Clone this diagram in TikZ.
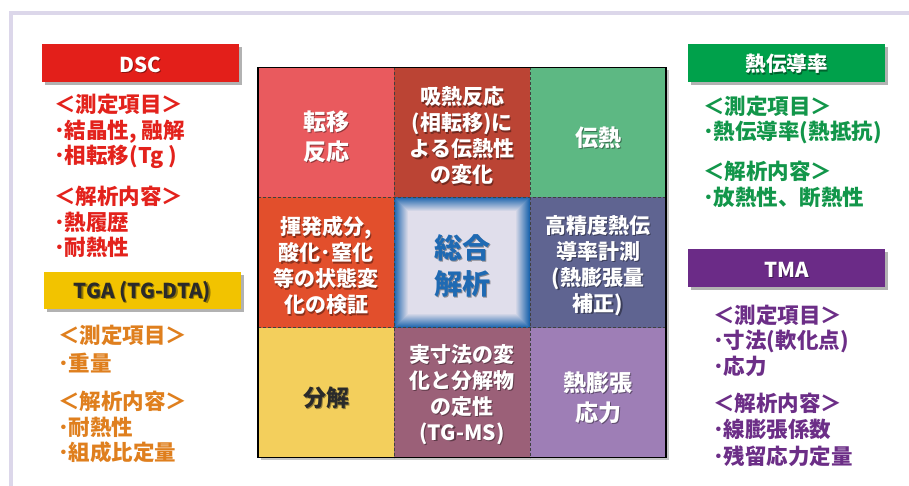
\documentclass[tikz,border=0pt]{standalone}
\usepackage{fontspec}
\setmainfont{Noto Sans CJK JP}
\usetikzlibrary{calc,shadows}
\definecolor{framecol}{HTML}{DCD7EA}
\definecolor{dscred}{HTML}{E31F1A}
\definecolor{dsctxt}{HTML}{E3221C}
\definecolor{tgayel}{HTML}{F2C300}
\definecolor{tgatxt}{HTML}{DF7F1E}
\definecolor{grnbox}{HTML}{00A14B}
\definecolor{grntxt}{HTML}{12964A}
\definecolor{purbox}{HTML}{6B2B87}
\definecolor{purtxt}{HTML}{6C2E87}
\definecolor{c00}{HTML}{E95A5E}
\definecolor{c01}{HTML}{BB4434}
\definecolor{c02}{HTML}{5DB883}
\definecolor{c10}{HTML}{E24F2C}
\definecolor{c11}{HTML}{EEE7EF}
\definecolor{c12}{HTML}{5F6491}
\definecolor{c20}{HTML}{F3CF5C}
\definecolor{c21}{HTML}{9B6078}
\definecolor{c22}{HTML}{9E7EB6}
\definecolor{glow}{HTML}{1C64AD}
\definecolor{ctrtxt}{HTML}{1F6AB3}
\definecolor{darktxt}{HTML}{2A2A2A}
\tikzset{
  cellbox/.style={minimum width=136pt, minimum height=130pt, inner sep=0pt, outer sep=0pt},
  celltxt/.style={align=center, inner sep=0pt, font=\bfseries\fontsize{21}{26}\selectfont},
  bigtxt/.style={align=center, inner sep=0pt, font=\bfseries\fontsize{23}{30}\selectfont},
  ctrtext/.style={align=center, inner sep=0pt, font=\bfseries\fontsize{28}{36}\selectfont},
  hdr/.style={minimum width=197pt, minimum height=38pt, inner sep=0pt,
    drop shadow={shadow xshift=2.5pt, shadow yshift=-3pt, fill=black, opacity=0.3}},
  hdrtxt/.style={inner sep=0pt, font=\bfseries\fontsize{20.5}{22}\selectfont},
  hdrjtxt/.style={inner sep=0pt, font=\bfseries\fontsize{20.5}{22}\selectfont},
  side/.style={anchor=west, align=left, inner sep=0pt, font=\bfseries\fontsize{21.5}{25.5}\selectfont},
  divider/.style={draw=black!75, line width=0.8pt, dash pattern=on 3pt off 2pt},
}
% name, base node, y offset, style, colour, text
\newcommand\shtext[6]{%
  \node[#4, text=black, text opacity=0.38] (#1s) at ($(#2.center)+(1.3,#3+1.6)$) {#6};
  \node[#4, text=#5] (#1) at ($(#2.center)+(0,#3)$) {#6};}
\begin{document}
\begin{tikzpicture}[x=1pt,y=-1pt]
\useasboundingbox (0,0) rectangle (909,486);
\fill[white] (0,0) rectangle (909,486);
\draw[framecol, line width=4pt] (11,490) -- (11,13) -- (915,13);

% ---- grid ----
\fill[black!22] (260.5,70) rectangle (668.5,460);
\node[cellbox, fill=c00] (c00) at (326,132.5) {};
\node[cellbox, fill=c01] (c01) at (462,132.5) {};
\node[cellbox, fill=c02] (c02) at (598,132.5) {};
\node[cellbox, fill=c10] (c10) at (326,262.5) {};
\node[cellbox, fill=c11] (c11) at (462,262.5) {};
\node[cellbox, fill=c12] (c12) at (598,262.5) {};
\node[cellbox, fill=c20] (c20) at (326,392.5) {};
\node[cellbox, fill=c21] (c21) at (462,392.5) {};
\node[cellbox, fill=c22] (c22) at (598,392.5) {};
\foreach \i in {0,...,14}{
  \pgfmathsetmacro\p{100-\i*100/15}
  \fill[glow!\p!c11] ($(c11.north west)+(\i,\i)$) rectangle ($(c11.south east)+(-\i,-\i)$);
}
\draw[divider] (c00.north east) -- (c20.south east);
\draw[divider] (c01.north east) -- (c21.south east);
\draw[divider] (c00.south west) -- (c02.south east);
\draw[divider] (c10.south west) -- (c12.south east);
\draw[black, line width=1.5pt] (c00.north west) rectangle (c22.south east);

\shtext{t00}{c00}{4}{bigtxt}{white}{転移\\反応}
\shtext{t01}{c01}{3}{celltxt}{white}{吸熱反応\\(相転移)に\\よる伝熱性\\の変化}
\shtext{t02}{c02}{5}{bigtxt}{white}{伝熱}
\shtext{t10}{c10}{3}{celltxt}{white}{揮発成分,\\酸化･窒化\\等の状態変\\化の検証}
\shtext{t11}{c11}{3}{ctrtext}{ctrtxt}{総合\\解析}
\shtext{t12}{c12}{3}{celltxt}{white}{高精度熱伝\\導率計測\\(熱膨張量\\補正)}
\shtext{t20}{c20}{5}{bigtxt}{darktxt}{分解}
\shtext{t21}{c21}{2}{celltxt}{white}{実寸法の変\\化と分解物\\の定性\\(TG-MS)}
\shtext{t22}{c22}{5}{bigtxt}{white}{熱膨張\\応力}

% ---- headers ----
\node[hdr, fill=dscred] (hdsc) at (140.5,63) {};
\node[hdr, fill=tgayel, minimum height=37pt] (htga) at (142.5,290.5) {};
\node[hdr, fill=grnbox] (hgrn) at (786.5,63) {};
\node[hdr, fill=purbox] (htma) at (786.5,268) {};
\shtext{hdsct}{hdsc}{1.5}{hdrtxt}{white}{DSC}
\shtext{htgat}{htga}{1}{hdrtxt}{darktxt}{TGA (TG-DTA)}
\shtext{hgrnt}{hgrn}{1}{hdrjtxt}{white}{熱伝導率}
\shtext{htmat}{htma}{1.5}{hdrtxt}{white}{TMA}

% ---- side texts ----
\node[side, text=dsctxt] (d1) at (54,131.5) {＜測定項目＞\\･結晶性, 融解\\･相転移(Tg )};
\node[side, text=dsctxt] (d2) at (54,222) {＜解析内容＞\\･熱履歴\\･耐熱性};
\node[side, text=tgatxt, font=\bfseries\fontsize{21.5}{28}\selectfont] (g1) at (58,349) {＜測定項目＞\\･重量};
\node[side, text=tgatxt] (g2) at (58,427) {＜解析内容＞\\･耐熱性\\･組成比定量};
\node[side, text=grntxt] (k1) at (703,120) {＜測定項目＞\\･熱伝導率(熱抵抗)};
\node[side, text=grntxt] (k2) at (703,184.5) {＜解析内容＞\\･放熱性、断熱性};
\node[side, text=purtxt] (m1) at (713,340.5) {＜測定項目＞\\･寸法(軟化点)\\･応力};
\node[side, text=purtxt, font=\bfseries\fontsize{21.5}{26.5}\selectfont] (m2) at (713,429.5) {＜解析内容＞\\･線膨張係数\\･残留応力定量};
\end{tikzpicture}
\end{document}
